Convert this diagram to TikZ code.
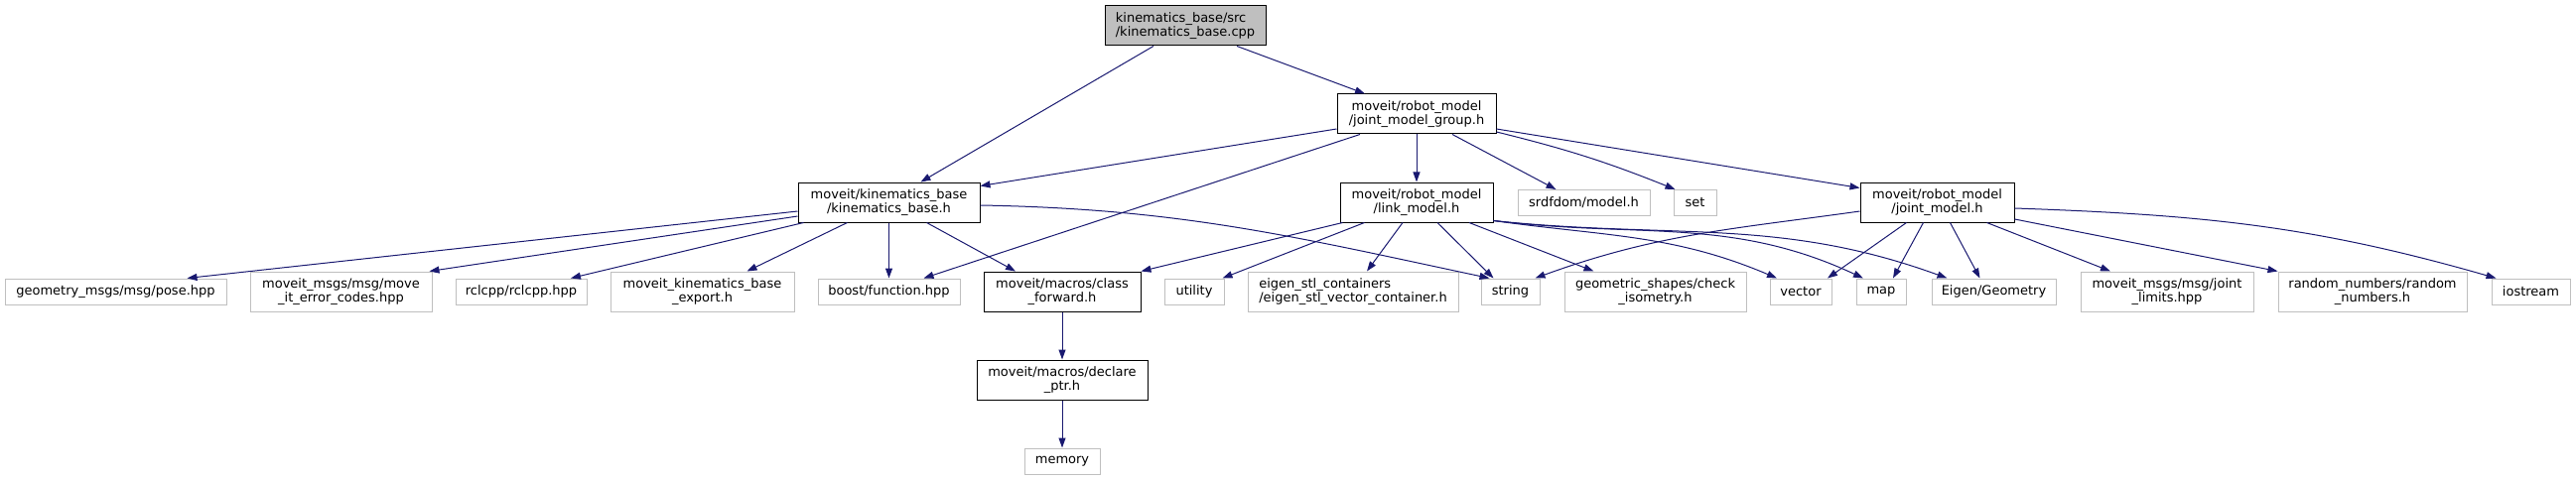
\documentclass[tikz,border=0pt]{standalone}
\usepackage{fontspec}
\setmainfont{DejaVu Sans}
\usepackage{tikz}
\usetikzlibrary{arrows.meta,positioning,calc}
\definecolor{edgeblue}{HTML}{191970}
\definecolor{extgray}{HTML}{BFBFBF}
\definecolor{rootgray}{HTML}{BFBFBF}

\begin{document}
\begin{tikzpicture}[x=1pt,y=-1pt,
  font=\fontsize{13}{14}\selectfont,
  docbox/.style={draw=black, line width=1pt, inner sep=0pt, align=center, minimum height=26pt},
  extbox/.style={draw=extgray, line width=1pt, inner sep=0pt, align=center, minimum height=26pt},
  incl/.style={draw=edgeblue, line width=1pt, -{Triangle[length=10pt,width=7pt]}}]
  \useasboundingbox (0,0) rectangle (2595,484);

  % top of the graph
  \node[docbox, fill=rootgray, minimum width=162pt, minimum height=40pt, align=left] (root) at (1194,26) {kinematics\_base/src\\/kinematics\_base.cpp};
  \node[docbox, minimum width=160pt, minimum height=40pt] (jmg) at (1427,115) {moveit/robot\_model\\/joint\_model\_group.h};

  % middle row
  \node[docbox, minimum width=183pt, minimum height=40pt] (kb) at (895.5,204) {moveit/kinematics\_base\\/kinematics\_base.h};
  \node[docbox, minimum width=154pt, minimum height=40pt] (lm) at (1427,204) {moveit/robot\_model\\/link\_model.h};
  \node[extbox, minimum width=133pt] (srdf) at (1595.5,204.5) {srdfdom/model.h};
  \node[extbox, minimum width=43pt] (set) at (1707.5,204.5) {set};
  \node[docbox, minimum width=155pt, minimum height=40pt] (jm) at (1951.5,204) {moveit/robot\_model\\/joint\_model.h};

  % bottom row
  \node[extbox, minimum width=223pt] (pose) at (116.5,294) {geometry\_msgs/msg/pose.hpp};
  \node[extbox, minimum width=183pt, minimum height=40pt] (err) at (343.5,294) {moveit\_msgs/msg/move\\\_it\_error\_codes.hpp};
  \node[extbox, minimum width=132pt] (rclcpp) at (525,294) {rclcpp/rclcpp.hpp};
  \node[extbox, minimum width=185pt, minimum height=40pt] (export) at (707.5,294) {moveit\_kinematics\_base\\\_export.h};
  \node[extbox, minimum width=143pt] (boostfn) at (895.5,294) {boost/function.hpp};
  \node[docbox, minimum width=158pt, minimum height=40pt] (classfwd) at (1070,294) {moveit/macros/class\\\_forward.h};
  \node[extbox, minimum width=60pt] (utility) at (1203,294) {utility};
  \node[extbox, minimum width=212pt, minimum height=40pt, align=left] (eigenstl) at (1363,294) {eigen\_stl\_containers\\/eigen\_stl\_vector\_container.h};
  \node[extbox, minimum width=59pt] (string) at (1521.5,294) {string};
  \node[extbox, minimum width=183pt, minimum height=40pt] (geom) at (1667.5,294) {geometric\_shapes/check\\\_isometry.h};
  \node[extbox, minimum width=62pt] (vector) at (1814,294) {vector};
  \node[extbox, minimum width=50pt] (map) at (1895,294) {map};
  \node[extbox, minimum width=125pt] (eigengeo) at (2008.5,294) {Eigen/Geometry};
  \node[extbox, minimum width=174pt, minimum height=40pt] (limits) at (2183,294) {moveit\_msgs/msg/joint\\\_limits.hpp};
  \node[extbox, minimum width=190pt, minimum height=40pt] (rand) at (2390,294) {random\_numbers/random\\\_numbers.h};
  \node[extbox, minimum width=79pt] (iostream) at (2549.5,294) {iostream};

  % macros chain
  \node[docbox, minimum width=172pt, minimum height=40pt] (declptr) at (1070,383) {moveit/macros/declare\\\_ptr.h};
  \node[extbox, minimum width=76pt] (memory) at (1070,465) {memory};

  % includes of the source file
  \draw[incl] ($(root.south)+(-32,0)$) -- ($(kb.north)+(32,0)$);
  \draw[incl] ($(root.south)+(52,0)$) -- ($(jmg.north)+(-52,0)$);

  % joint_model_group.h
  \draw[incl] ($(jmg.west)+(0,15)$) -- ($(kb.north east)+(0,4)$);
  \draw[incl] ($(jmg.south)+(-57,0)$) -- ($(boostfn.north)+(35,0)$);
  \draw[incl] (jmg.south) -- (lm.north);
  \draw[incl] ($(jmg.south)+(36,0)$) -- ($(srdf.north)+(-28,0)$);
  \draw[incl] ($(jmg.east)+(0,18)$) to[bend left=4] ($(set.north)+(-20,0)$);
  \draw[incl] ($(jmg.east)+(0,15)$) -- ($(jm.north west)+(0,6)$);

  % kinematics_base.h
  \draw[incl] ($(kb.west)+(0,9)$) -- ($(pose.north)+(72,0)$);
  \draw[incl] ($(kb.west)+(0,14)$) -- ($(err.north east)+(-3,0)$);
  \draw[incl] ($(kb.south west)+(6,0)$) -- ($(rclcpp.north)+(50,0)$);
  \draw[incl] ($(kb.south)+(-42,0)$) -- ($(export.north)+(45,0)$);
  \draw[incl] (kb.south) -- (boostfn.north);
  \draw[incl] ($(kb.south)+(38,0)$) -- ($(classfwd.north)+(-47,0)$);
  \draw[incl] ($(kb.east)+(0,3)$) to[out=-1,in=168] ($(string.north)+(-21,0)$);

  % link_model.h
  \draw[incl] ($(lm.south west)+(3,0)$) -- (classfwd.north east);
  \draw[incl] ($(lm.south west)+(25,0)$) -- ($(utility.north east)+(-2,0)$);
  \draw[incl] ($(lm.south)+(-14,0)$) -- ($(eigenstl.north)+(14,0)$);
  \draw[incl] ($(lm.south)+(21,0)$) -- ($(string.north)+(-17,0)$);
  \draw[incl] ($(lm.south)+(53,0)$) -- ($(geom.north)+(-62,0)$);
  \draw[incl] ($(lm.south east)+(0,-2)$) to[out=-8,in=157] ($(vector.north)+(-24,0)$);
  \draw[incl] ($(lm.south east)+(0,-2)$) to[out=-7,in=155] ($(map.north)+(-18,0)$);
  \draw[incl] ($(lm.south east)+(0,-2)$) to[out=-6,in=160] ($(eigengeo.north)+(-47,0)$);

  % joint_model.h
  \draw[incl] ($(jm.west)+(0,9)$) to[out=188,in=20] ($(string.north east)+(-5,0)$);
  \draw[incl] ($(jm.south)+(-31,0)$) -- ($(vector.north)+(27,0)$);
  \draw[incl] ($(jm.south)+(-14,0)$) -- ($(map.north)+(12,0)$);
  \draw[incl] ($(jm.south)+(13,0)$) -- ($(eigengeo.north)+(-14,0)$);
  \draw[incl] ($(jm.south)+(50,0)$) -- ($(limits.north)+(-57,0)$);
  \draw[incl] ($(jm.east)+(0,17)$) -- (rand.north west);
  \draw[incl] ($(jm.east)+(0,6)$) to[out=-2,in=164] ($(iostream.north)+(-35,0)$);

  % class_forward.h
  \draw[incl] (classfwd.south) -- (declptr.north);
  \draw[incl] (declptr.south) -- (memory.north);
\end{tikzpicture}
\end{document}
